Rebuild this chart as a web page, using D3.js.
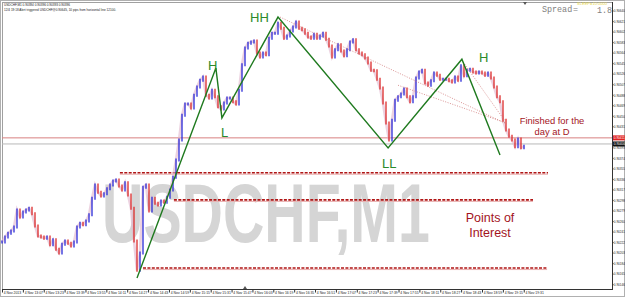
<!DOCTYPE html>
<html>
<head>
<meta charset="utf-8">
<script src="https://cdn.jsdelivr.net/npm/d3@7"></script>
<style>
  body { margin: 0; background: #fff; }
  svg { display: block; }
</style>
</head>
<body>
<script>
// ---- data ----
// close of each bar (bars are 2.3 minutes apart on this compressed M1 view)
var closes = [
  0.90223,0.90232,0.90239,0.90243,0.90250,0.90281,0.90268,0.90277,0.90281,0.90284,
  0.90274,0.90252,0.90234,0.90232,0.90230,0.90232,0.90218,0.90227,0.90210,0.90203,
  0.90219,0.90225,0.90221,0.90216,0.90223,0.90250,0.90257,0.90254,0.90261,0.90272,
  0.90302,0.90326,0.90313,0.90306,0.90310,0.90319,0.90326,0.90333,0.90335,0.90324,
  0.90317,0.90330,0.90308,0.90284,0.90225,0.90172,0.90203,0.90322,0.90326,0.90279,
  0.90302,0.90293,0.90290,0.90297,0.90295,0.90304,0.90317,0.90340,0.90371,0.90407,
  0.90452,0.90472,0.90472,0.90465,0.90488,0.90503,0.90515,0.90521,0.90488,0.90483,
  0.90497,0.90485,0.90467,0.90463,0.90474,0.90483,0.90483,0.90476,0.90472,0.90497,
  0.90543,0.90573,0.90582,0.90584,0.90586,0.90564,0.90557,0.90564,0.90561,0.90591,
  0.90600,0.90600,0.90618,0.90609,0.90591,0.90595,0.90604,0.90611,0.90620,0.90609,
  0.90606,0.90600,0.90593,0.90591,0.90598,0.90591,0.90595,0.90600,0.90589,0.90577,
  0.90557,0.90570,0.90579,0.90568,0.90559,0.90570,0.90584,0.90588,0.90570,0.90564,
  0.90561,0.90555,0.90546,0.90533,0.90532,0.90517,0.90501,0.90474,0.90438,0.90407,
  0.90443,0.90479,0.90485,0.90490,0.90499,0.90485,0.90476,0.90485,0.90519,0.90530,
  0.90533,0.90510,0.90506,0.90514,0.90528,0.90524,0.90517,0.90517,0.90517,0.90514,
  0.90512,0.90521,0.90515,0.90541,0.90523,0.90533,0.90535,0.90530,0.90528,0.90530,
  0.90528,0.90524,0.90528,0.90519,0.90503,0.90485,0.90476,0.90443,0.90425,0.90414,
  0.90407,0.90395,0.90409,0.90393,0.90396
];
var barMinutes = 2.3;

// swing points H / L / HH / LL (bar index, price)
var zigzag = [
  [45, 0.90158], [71.3, 0.90537], [73.3, 0.90447], [92, 0.90629],
  [128.7, 0.90393], [153.3, 0.90553], [166, 0.90380]
];
// thin dotted trend lines
var dottedLines = [
  [[92.7, 0.90629], [168.3, 0.90436]],
  [[132, 0.90506], [168, 0.90438]],
  [[153.7, 0.90548], [167.7, 0.90441]]
];
// points of interest (price, from bar, to bar)
var levels = [
  [0.90348, 39.3, 182],
  [0.90299, 57.3, 177],
  [0.90176, 47, 181.7]
];
var askPrice = 0.90411;
var bidPrice = 0.90400;

var priceTicks = [
  0.90640,0.90621,0.90602,0.90583,0.90564,0.90545,0.90526,0.90507,0.90488,
  0.90469,0.90450,0.90431,0.90412,0.90393,0.90374,0.90355,0.90336,0.90317,
  0.90298,0.90279,0.90260,0.90241,0.90222,0.90203,0.90184,0.90165,0.90146
];
var timeLabels = [
  "4 Nov 2013","4 Nov 13:07","4 Nov 13:23","4 Nov 13:39","4 Nov 13:55","4 Nov 14:11",
  "4 Nov 14:27","4 Nov 14:43","4 Nov 14:59","4 Nov 15:15","4 Nov 15:31","4 Nov 15:47",
  "4 Nov 16:03","4 Nov 16:19","4 Nov 16:35","4 Nov 16:51","4 Nov 17:07","4 Nov 17:23",
  "4 Nov 17:39","4 Nov 17:55","4 Nov 18:11","4 Nov 18:27","4 Nov 18:43","4 Nov 18:59",
  "4 Nov 19:15","4 Nov 19:31"
];
var labelMinutes = 16;

// ---- stage ----
var width = 625, height = 297;
var plot = { left: 2, top: 2, right: 612, bottom: 289 };

var svg = d3.select("body").append("svg")
  .attr("width", width).attr("height", height)
  .style("font-family", "'Liberation Sans', Arial, sans-serif");

var x = d3.scaleLinear().domain([0, 174 * barMinutes]).range([2, 524]);
var y = d3.scaleLinear().domain([0.90140, 0.90640]).range([288, 11]);
var xi = function(i) { return x(i * barMinutes); };

// frame
svg.append("rect").attr("x", 0.5).attr("y", 0.5).attr("width", width - 1).attr("height", height - 1)
  .attr("fill", "#fff").attr("stroke", "#b0b0b0");
svg.append("line").attr("x1", plot.left + 0.5).attr("x2", plot.left + 0.5)
  .attr("y1", plot.top).attr("y2", plot.bottom).attr("stroke", "#a0a0a0");
svg.append("line").attr("x1", plot.left).attr("x2", plot.right)
  .attr("y1", plot.top + 0.5).attr("y2", plot.top + 0.5).attr("stroke", "#a0a0a0");

// watermark, squeezed horizontally like the terminal's condensed font
var wm = svg.append("text")
  .attr("x", 0).attr("y", 0)
  .attr("font-size", 84).attr("font-weight", "bold")
  .attr("fill", "#d5d5d5")
  .text("USDCHF,M1");
var wmScale = 328 / wm.node().getComputedTextLength();
wm.attr("transform", "translate(102,242) scale(" + wmScale + ",1)");

// header lines
svg.append("text").attr("x", 4).attr("y", 6).attr("font-size", 4.4).attr("fill", "#222")
  .attr("textLength", 66).attr("lengthAdjust", "spacingAndGlyphs")
  .text("USDCHF,M1  0.90394 0.90396 0.90393 0.90396");
svg.append("text").attr("x", 4).attr("y", 11).attr("font-size", 4.4).attr("fill", "#222")
  .attr("textLength", 112).attr("lengthAdjust", "spacingAndGlyphs")
  .text("12/4 19:18 Alert triggered USDCHF@0.90645, 10 pips from horizontal line 12100.");

// spread readout
svg.append("text").attr("x", 577).attr("y", 4.6).attr("font-size", 3.9).attr("fill", "#e8d84a")
  .attr("textLength", 30).attr("lengthAdjust", "spacingAndGlyphs")
  .text("SLEEP=10:0000");
var mono = "'Liberation Mono', 'DejaVu Sans Mono', monospace";
svg.append("text").attr("x", 542).attr("y", 12).attr("font-size", 8.4).attr("fill", "#808080")
  .attr("font-family", mono).text("Spread");
svg.append("text").attr("x", 573).attr("y", 12).attr("font-size", 8.4).attr("fill", "#808080")
  .attr("font-family", mono).text("=");
svg.append("text").attr("x", 597).attr("y", 12.5).attr("font-size", 8.4).attr("fill", "#808080")
  .attr("font-family", mono).text("1.8");

// ask / bid lines
svg.append("line").attr("x1", plot.left).attr("x2", plot.right)
  .attr("y1", y(askPrice)).attr("y2", y(askPrice)).attr("stroke", "#d88080").attr("stroke-width", 1);
svg.append("line").attr("x1", plot.left).attr("x2", plot.right)
  .attr("y1", y(bidPrice)).attr("y2", y(bidPrice)).attr("stroke", "#b8b8b8").attr("stroke-width", 1);

// points of interest
levels.forEach(function(l) {
  svg.append("line").attr("x1", xi(l[1])).attr("x2", xi(l[2]))
    .attr("y1", y(l[0]) + 1.5).attr("y2", y(l[0]) + 1.5)
    .attr("stroke", "#eab0b0").attr("stroke-width", 1);
  svg.append("line").attr("x1", xi(l[1])).attr("x2", xi(l[2]))
    .attr("y1", y(l[0])).attr("y2", y(l[0]))
    .attr("stroke", "#b01515").attr("stroke-width", 1.6)
    .attr("stroke-dasharray", "3,1.4");
});

// price bars
var line = d3.line().x(function(d, i) { return xi(i); }).y(function(d) { return y(d); });
svg.append("path").datum(closes).attr("d", line)
  .attr("fill", "none").attr("stroke", "#e0b4cc").attr("stroke-width", 2.6).attr("opacity", 0.6);

svg.append("g").selectAll("line")
  .data(closes)
  .enter()
  .append("line")
  .attr("x1", function(d, i) { return xi(i); })
  .attr("x2", function(d, i) { return xi(i); })
  .attr("y1", function(d, i) { var o = i ? closes[i - 1] : d; return y(Math.max(o, d)) - 1.5; })
  .attr("y2", function(d, i) { var o = i ? closes[i - 1] : d; return y(Math.min(o, d)) + 1.5; })
  .attr("stroke", function(d, i) { var o = i ? closes[i - 1] : d; return d >= o ? "#2a2ad8" : "#dc2a2a"; })
  .attr("stroke-width", 1.3);

// dotted trend lines
dottedLines.forEach(function(seg) {
  svg.append("line")
    .attr("x1", xi(seg[0][0])).attr("y1", y(seg[0][1]))
    .attr("x2", xi(seg[1][0])).attr("y2", y(seg[1][1]))
    .attr("stroke", "#d07878").attr("stroke-width", 0.8).attr("stroke-dasharray", "1,1.5");
});

// zigzag
svg.append("path").datum(zigzag)
  .attr("d", d3.line().x(function(d) { return xi(d[0]); }).y(function(d) { return y(d[1]); }))
  .attr("fill", "none").attr("stroke", "#1f7a1f").attr("stroke-width", 1.4);

// labels
var green = "#2b8a2b";
[["H", 208, 70], ["L", 221, 137], ["HH", 250, 22], ["LL", 382, 168], ["H", 479, 62]].forEach(function(t) {
  svg.append("text").attr("x", t[1]).attr("y", t[2]).attr("font-size", 13).attr("fill", green).text(t[0]);
});
var dark = "#a3141e";
svg.append("text").attr("x", 552).attr("y", 124).attr("text-anchor", "middle").attr("font-size", 9.4).attr("fill", dark).text("Finished for the");
svg.append("text").attr("x", 552).attr("y", 135).attr("text-anchor", "middle").attr("font-size", 9.4).attr("fill", dark).text("day at D");
svg.append("text").attr("x", 490).attr("y", 222).attr("text-anchor", "middle").attr("font-size", 12.5).attr("fill", dark).text("Points of");
svg.append("text").attr("x", 490).attr("y", 237).attr("text-anchor", "middle").attr("font-size", 12.5).attr("fill", dark).text("Interest");

// axes lines
svg.append("line").attr("x1", plot.right + 0.5).attr("x2", plot.right + 0.5)
  .attr("y1", plot.top).attr("y2", plot.bottom + 1).attr("stroke", "#333");
svg.append("line").attr("x1", plot.left).attr("x2", plot.right + 1)
  .attr("y1", plot.bottom + 0.5).attr("y2", plot.bottom + 0.5).attr("stroke", "#333");

// price scale
var py = svg.append("g");
priceTicks.forEach(function(p) {
  py.append("line").attr("x1", plot.right).attr("x2", plot.right + 1.5)
    .attr("y1", y(p)).attr("y2", y(p)).attr("stroke", "#333");
  py.append("text").attr("x", plot.right + 1.8).attr("y", y(p) + 1.3)
    .attr("font-size", 3.1).attr("fill", "#222")
    .text(p.toFixed(5));
});
[[askPrice, "#e02020"], [bidPrice, "#111"]].forEach(function(a) {
  py.append("rect").attr("x", plot.right + 1).attr("y", y(a[0]) - 2.5)
    .attr("width", 11.8).attr("height", 5).attr("fill", a[1]);
  py.append("text").attr("x", plot.right + 1.8).attr("y", y(a[0]) + 1.3)
    .attr("font-size", 3.1).attr("fill", "#fff")
    .text(a[0].toFixed(5));
});

// time scale
timeLabels.forEach(function(t, k) {
  var tx = x(k * labelMinutes);
  svg.append("line").attr("x1", tx + 0.5).attr("x2", tx + 0.5)
    .attr("y1", plot.bottom).attr("y2", plot.bottom + 3.5).attr("stroke", "#333");
  svg.append("text").attr("x", tx + 1.8).attr("y", plot.bottom + 5.3)
    .attr("font-size", 3.4).attr("fill", "#222")
    .text(t);
});

// shift markers
svg.append("path").attr("d", "M523,2 L527,2 L525,5 Z").attr("fill", "#555");
svg.append("path").attr("d", "M243,289 L247,289 L245,286 Z").attr("fill", "#555");
</script>
</body>
</html>
